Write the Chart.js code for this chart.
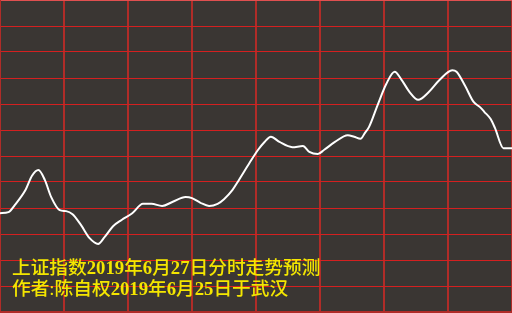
<!DOCTYPE html>
<html>
<head>
<meta charset="utf-8">
<script src="https://cdn.jsdelivr.net/npm/chart.js@4"></script>
<style>
  html, body { margin: 0; padding: 0; background: #3a3633; }
  #wrap { position: relative; width: 512px; height: 313px; }
  #note {
    position: absolute; left: 12px; top: 257px;
    font: 500 18.7px 'Liberation Serif', 'Noto Sans CJK SC', serif;
    line-height: 21px; color: #f4e600; white-space: nowrap;
  }
  #note b { font-weight: bold; }
</style>
</head>
<body>
<div id="wrap">
  <canvas id="chart" width="512" height="313"></canvas>
  <div id="note">上证指数<b>2019</b>年<b>6</b>月<b>27</b>日分时走势预测<br>作者:陈自权<b>2019</b>年<b>6</b>月<b>25</b>日于武汉</div>
</div>
<script>
// minutes since the open (0..240) and forecast index level
const minutes = [0, 4, 7, 12, 15, 18, 21, 24, 28, 31, 34, 38, 42, 46, 49, 53, 57, 62, 67, 71,
  76, 81, 87, 90, 94, 98, 102, 105, 109, 112, 117, 121, 124, 127, 131, 137, 142, 145, 149, 152,
  157, 163, 166, 169, 171, 173, 177, 181, 185, 188, 192, 196, 201, 206, 212, 214, 218, 222, 225, 227,
  230, 232, 236, 240];
const levels = [2979.0, 2979.2, 2980.6, 2983.5, 2986.2, 2987.3, 2985.4, 2982.1, 2979.6, 2979.4,
  2978.8, 2976.7, 2974.2, 2973.1, 2974.4, 2976.5, 2977.7, 2979.0, 2980.8, 2980.8,
  2980.4, 2981.2, 2982.1, 2981.9, 2981.0, 2980.4, 2980.8, 2981.7, 2983.5, 2985.4,
  2988.7, 2991.2, 2992.7, 2993.7, 2992.7, 2991.7, 2991.9, 2990.8, 2990.4, 2991.2,
  2992.7, 2994.0, 2993.7, 2993.3, 2994.4, 2995.6, 2999.8, 3003.8, 3006.2, 3004.8,
  3002.3, 3000.8, 3002.3, 3004.6, 3006.5, 3006.2, 3003.5, 3000.4, 2999.4, 2998.5,
  2997.1, 2995.4, 2991.5, 2991.5];

const ctx = document.getElementById('chart').getContext('2d');
new Chart(ctx, {
  type: 'line',
  data: {
    datasets: [{
      data: minutes.map((m, i) => ({ x: m, y: levels[i] })),
      borderColor: '#ffffff',
      borderWidth: 2,
      pointRadius: 0,
      cubicInterpolationMode: 'monotone'
    }]
  },
  options: {
    responsive: false,
    animation: false,
    layout: { padding: { left: 0, right: 0, top: 0, bottom: 1 } },
    scales: {
      x: {
        type: 'linear', min: 0, max: 240,
        ticks: { display: false, stepSize: 30 },
        grid: { color: '#b02c28', lineWidth: 2, drawTicks: false },
        border: { display: true, color: '#b02c28', width: 2 }
      },
      y: {
        min: 2960, max: 3020,
        ticks: { display: false, stepSize: 5 },
        grid: {
          color: ctx => ctx.index === 12 ? '#e05050' : '#d42020',
          lineWidth: 1, drawTicks: false
        },
        border: { display: true, color: '#b02c28', width: 2 }
      }
    },
    plugins: { legend: { display: false }, tooltip: { enabled: false } }
  }
});
</script>
</body>
</html>
